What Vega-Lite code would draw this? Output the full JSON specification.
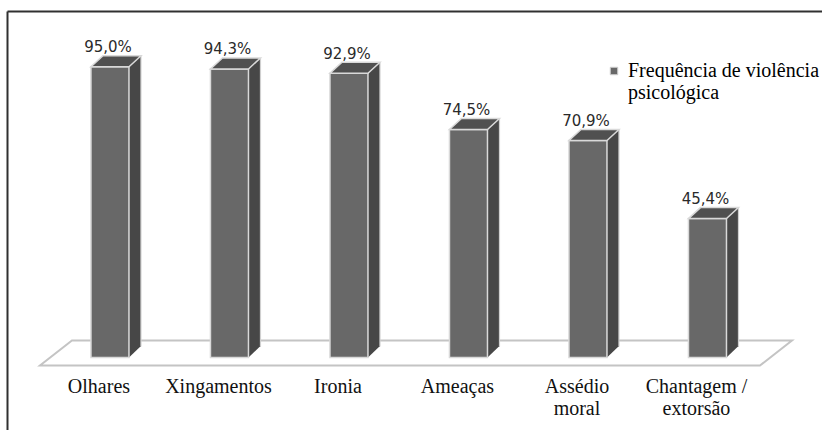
{
  "$schema": "https://vega.github.io/schema/vega-lite/v6.json",
  "width": 815,
  "height": 419,
  "autosize": "none",
  "padding": {"left": 7, "top": 11, "right": 0, "bottom": 0},
  "background": "white",
  "config": {"view": {"stroke": null}},
  "data": {
    "values": [
      {"categoria": "Olhares", "valor": 95.0, "rotulo": "95,0%"},
      {"categoria": "Xingamentos", "valor": 94.3, "rotulo": "94,3%"},
      {"categoria": "Ironia", "valor": 92.9, "rotulo": "92,9%"},
      {"categoria": "Ameaças", "valor": 74.5, "rotulo": "74,5%"},
      {"categoria": "Assédio\nmoral", "valor": 70.9, "rotulo": "70,9%"},
      {"categoria": "Chantagem /\nextorsão", "valor": 45.4, "rotulo": "45,4%"}
    ]
  },
  "encoding": {
    "x": {
      "field": "categoria",
      "type": "nominal",
      "sort": ["Olhares", "Xingamentos", "Ironia", "Ameaças", "Assédio\nmoral", "Chantagem /\nextorsão"],
      "scale": {"domain": ["Olhares", "Xingamentos", "Ironia", "Ameaças", "Assédio\nmoral", "Chantagem /\nextorsão"], "paddingInner": 0, "paddingOuter": 0.41, "align": 0.441},
      "axis": {"orient": "top", "labels": false, "ticks": false, "title": null, "grid": false, "domainColor": "#303030", "domainWidth": 2}
    },
    "y": {
      "field": "valor",
      "type": "quantitative",
      "scale": {"domain": [-23.69, 113.24], "nice": false, "zero": false},
      "axis": {"orient": "left", "labels": false, "ticks": false, "title": null, "grid": false, "domainColor": "#303030", "domainWidth": 2}
    }
  },
  "layer": [
    {
      "transform": [{"filter": "datum.categoria === 'Ironia'"}],
      "mark": {"type": "point", "shape": "M-309,8L411,8L443,-17L-277,-17Z", "size": 4, "filled": true, "fill": "white", "stroke": "#c4c4c4", "strokeWidth": 2, "opacity": 1},
      "encoding": {"y": {"datum": 0}}
    },
    {
      "mark": {"type": "bar", "size": 12, "xOffset": 25, "yOffset": -11, "y2Offset": -11, "color": "#474747"},
      "encoding": {"y2": {"datum": 0}}
    },
    {
      "mark": {"type": "point", "shape": "M19,0L19,-11.5L31,-11.5Z", "size": 4, "filled": true, "fill": "#474747", "opacity": 1},
      "encoding": {"y": {"datum": 0}}
    },
    {
      "mark": {"type": "rule", "xOffset": 31, "yOffset": -11, "y2Offset": -11, "color": "#d0d0d0", "strokeWidth": 1.2},
      "encoding": {"y2": {"datum": 0}}
    },
    {
      "mark": {"type": "bar", "size": 38, "stroke": "#d9d9d9", "strokeWidth": 1.5},
      "encoding": {
        "y2": {"datum": 0},
        "color": {
          "datum": "Frequência de violência psicológica",
          "scale": {"range": ["#686868"]},
          "legend": {
            "orient": "none",
            "legendX": 597,
            "legendY": 50,
            "title": null,
            "padding": 0,
            "symbolType": "square",
            "symbolSize": 56,
            "symbolStrokeColor": "#d0d0d0",
            "symbolStrokeWidth": 1,
            "labelFont": "Liberation Serif",
            "labelFontSize": 20,
            "labelColor": "#000000",
            "labelLimit": 600,
            "labelOffset": 4,
            "labelBaseline": "middle",
            "labelExpr": "['Frequência de violência', 'psicológica']"
          }
        }
      }
    },
    {
      "mark": {"type": "point", "shape": "M-19,0L19,0L31,-11L-7,-11Z", "size": 4, "filled": true, "fill": "#505050", "stroke": "#d9d9d9", "strokeWidth": 1.5, "opacity": 1}
    },
    {
      "mark": {"type": "text", "dx": -2, "dy": -14.5, "baseline": "alphabetic", "align": "center", "font": "DejaVu Sans", "fontSize": 15, "color": "#2a2a2a"},
      "encoding": {"text": {"field": "rotulo"}}
    },
    {
      "mark": {"type": "text", "dx": -11, "dy": 35.5, "baseline": "alphabetic", "align": "center", "font": "Liberation Serif", "fontSize": 20, "lineBreak": "\n", "lineHeight": 22, "color": "#111111"},
      "encoding": {"y": {"datum": 0}, "text": {"field": "categoria"}}
    }
  ]
}
